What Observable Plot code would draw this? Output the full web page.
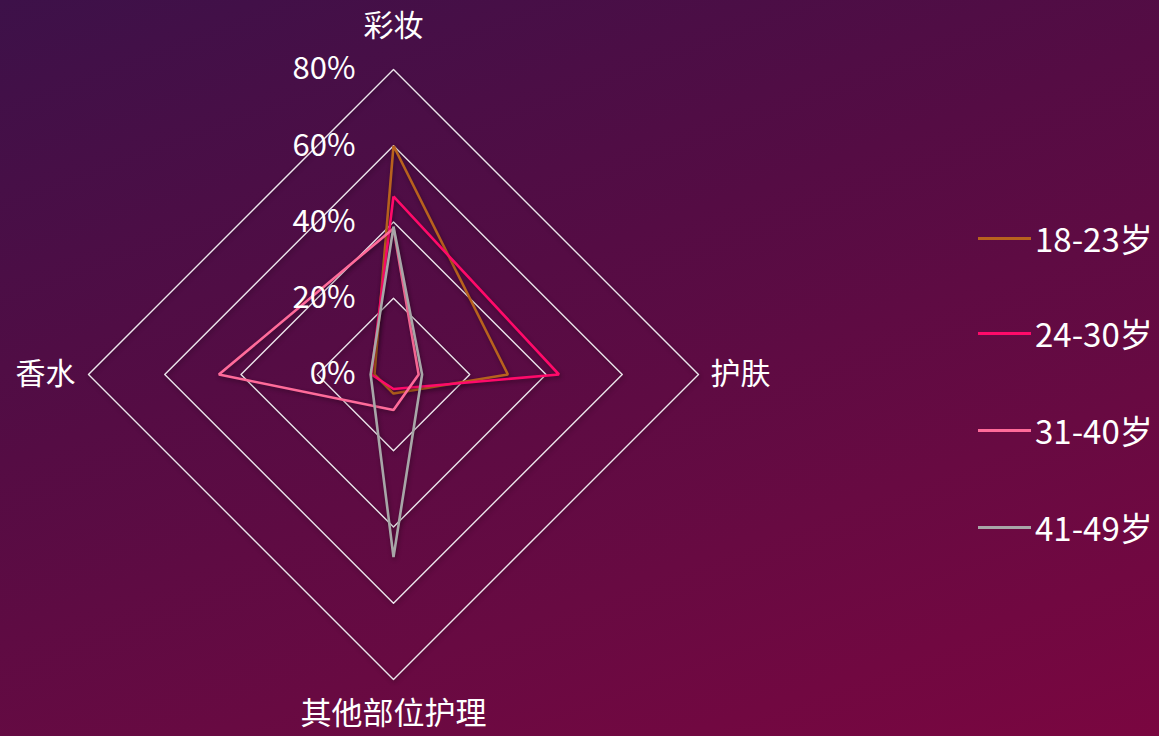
<!DOCTYPE html>
<html>
<head>
<meta charset="utf-8">
<script src="https://cdn.jsdelivr.net/npm/d3@7"></script>
<script src="https://cdn.jsdelivr.net/npm/@observablehq/plot@0.6"></script>
<style>
  html, body { margin: 0; padding: 0; }
  body {
    width: 1159px; height: 736px; overflow: hidden; position: relative;
    background: linear-gradient(160deg, #3d1149 0%, #550c44 40%, #680a42 70%, #7a0640 100%);
    font-family: "Noto Sans CJK SC", "Noto Sans", sans-serif;
  }
  #chart { position: absolute; left: 0; top: 0; }
  #chart svg g[aria-label="line"] path { filter: drop-shadow(1px 2px 2px rgba(0,0,0,0.35)); }
  #legend { position: absolute; left: 978px; top: 0; }
  .item { position: absolute; left: 0; display: flex; align-items: center; white-space: nowrap; }
  .swatch { width: 53px; height: 3px; margin-right: 4px; }
  .item span { color: #ffffff; font-size: 33px; line-height: 1; }
</style>
</head>
<body>
<div id="chart"></div>
<div id="legend"></div>
<script>
// ---- data ----
const categories = ["彩妆", "护肤", "其他部位护理", "香水"];
const seriesNames = ["18-23岁", "24-30岁", "31-40岁", "41-49岁"];
const seriesColors = ["#b8621e", "#ff0a6a", "#ff6b9a", "#a8a6a8"];
const values_18_23 = [60, 30, 5, 5];
const values_24_30 = [46.7, 43.4, 3.8, 5.8];
const values_31_40 = [38.3, 6.6, 9.3, 45.8];
const values_41_49 = [38.8, 7.5, 47.9, 6.0];
const gridLevels = [20, 40, 60, 80];
const tickLabels = ["0%", "20%", "40%", "60%", "80%"];
const tickValues = [0, 20, 40, 60, 80];

const allValues = [values_18_23, values_24_30, values_31_40, values_41_49];

// angle for each category (clockwise from top)
const angleOf = i => (i * 2 * Math.PI) / categories.length;
const px = (v, i) => v * Math.sin(angleOf(i));
const py = (v, i) => v * Math.cos(angleOf(i));

// polygon rows (closed)
const seriesRows = [];
allValues.forEach((vals, s) => {
  for (let k = 0; k <= categories.length; k++) {
    const i = k % categories.length;
    seriesRows.push({series: seriesNames[s], x: px(vals[i], i), y: py(vals[i], i), order: k});
  }
});
const gridRows = [];
gridLevels.forEach(level => {
  for (let k = 0; k <= categories.length; k++) {
    const i = k % categories.length;
    gridRows.push({level, x: px(level, i), y: py(level, i)});
  }
});
const tickRows = tickValues.map((v, j) => ({x: 0, y: v, label: tickLabels[j]}));
const catRows = categories.map((c, i) => ({x: px(80, i), y: py(80, i), label: c, i}));

// scale: 80% = 305px, center at (393, 374)
const W = 1159, H = 736, R = 305, CX = 393, CY = 374;
const k80 = 80 / R;

const chart = Plot.plot({
  width: W, height: H,
  margin: 0,
  style: {background: "transparent", color: "#fff", fontFamily: '"Noto Sans CJK SC", "Noto Sans", sans-serif'},
  x: {domain: [-CX * k80, (W - CX) * k80], range: [0, W], axis: null},
  y: {domain: [-(H - CY) * k80, CY * k80], range: [H, 0], axis: null},
  color: {domain: seriesNames, range: seriesColors},
  marks: [
    Plot.line(gridRows, {x: "x", y: "y", z: "level", stroke: "#ece6ec", strokeWidth: 1.4}),
    Plot.line(seriesRows, {x: "x", y: "y", z: "series", stroke: "series", strokeWidth: 2.6, strokeLinejoin: "miter", strokeLinecap: "butt"}),
    Plot.text(tickRows, {x: "x", y: "y", text: "label", textAnchor: "end", dx: -38, fill: "#fff", fontSize: 31}),
    Plot.text(catRows.filter(d => d.i === 0), {x: "x", y: "y", text: "label", dy: -43, fill: "#fff", fontSize: 30}),
    Plot.text(catRows.filter(d => d.i === 1), {x: "x", y: "y", text: "label", textAnchor: "start", dx: 12, fill: "#fff", fontSize: 30}),
    Plot.text(catRows.filter(d => d.i === 2), {x: "x", y: "y", text: "label", dy: 35, fill: "#fff", fontSize: 31}),
    Plot.text(catRows.filter(d => d.i === 3), {x: "x", y: "y", text: "label", textAnchor: "end", dx: -13, fill: "#fff", fontSize: 30})
  ]
});
document.getElementById("chart").append(chart);

// legend
const legend = document.getElementById("legend");
const legendTops = [238, 333, 430, 527];
seriesNames.forEach((name, s) => {
  const item = document.createElement("div");
  item.className = "item";
  item.style.top = (legendTops[s] - 18) + "px";
  item.style.height = "36px";
  const sw = document.createElement("div");
  sw.className = "swatch";
  sw.style.background = seriesColors[s];
  const label = document.createElement("span");
  label.textContent = name;
  item.append(sw, label);
  legend.append(item);
});
</script>
</body>
</html>
